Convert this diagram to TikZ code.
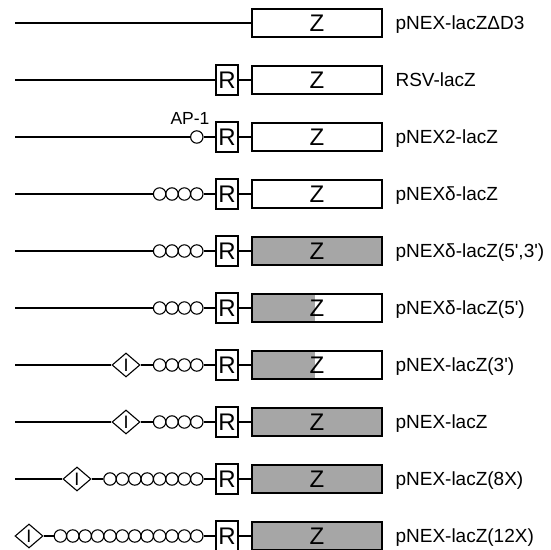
\documentclass[tikz,border=0pt]{standalone}
\usepackage{fontspec}
\setmainfont{Liberation Sans}
\usetikzlibrary{shapes.geometric}

\begin{document}
\begin{tikzpicture}[x=1pt, y=1pt, line width=1.1pt,
    zbox/.style={draw, rectangle, minimum width=130pt, minimum height=28pt, inner sep=0pt, font=\fontsize{24}{24}\selectfont},
    zfull/.style={zbox, fill=black!35},
    zhalf/.style={zbox, path picture={\fill[black!35] (path picture bounding box.south west) rectangle ([xshift=-2pt]path picture bounding box.north);}},
    rbox/.style={draw, rectangle, minimum width=22pt, minimum height=30pt, inner sep=0pt, font=\fontsize{24}{24}\selectfont},
    site/.style={draw, circle, minimum size=12.4pt, inner sep=0pt},
    enh/.style={draw, diamond, minimum width=28pt, minimum height=24pt, inner sep=0pt, font=\fontsize{18}{18}\selectfont},
    lab/.style={anchor=base west, yshift=-6.8pt, inner sep=0pt, font=\fontsize{19}{19}\selectfont}]

    \useasboundingbox (0,0) rectangle (550,550);

    % pNEX-lacZ delta D3
    \coordinate (s1) at (15,527);
    \node [zbox] (Z1) at (317,527) {Z};
    \node [lab] (L1) at (395,527) {pNEX-lacZΔD3};
    \draw (s1) -- (Z1);

    % RSV-lacZ
    \coordinate (s2) at (15,470);
    \node [rbox] (R2) at (227,470) {R};
    \node [zbox] (Z2) at (317,470) {Z};
    \node [lab] (L2) at (395,470) {RSV-lacZ};
    \draw (s2) -- (R2) -- (Z2);

    % pNEX2-lacZ, one AP-1 site
    \coordinate (s3) at (15,413);
    \node [site] (c3) at (196.8,413) {};
    \node [font=\fontsize{17.5}{18}\selectfont, anchor=base, inner sep=0pt] (ap) at (190,425) {AP-1};
    \node [rbox] (R3) at (227,413) {R};
    \node [zbox] (Z3) at (317,413) {Z};
    \node [lab] (L3) at (395,413) {pNEX2-lacZ};
    \draw (s3) -- (c3);
    \draw (c3) -- (R3) -- (Z3);

    % pNEXdelta-lacZ
    \coordinate (s4) at (15,356);
    \foreach \k in {1,...,4}
        \node [site] (c4-\k) at ({196.8-12.4*(4-\k)},356) {};
    \node [rbox] (R4) at (227,356) {R};
    \node [zbox] (Z4) at (317,356) {Z};
    \node [lab] (L4) at (395,356) {pNEXδ-lacZ};
    \draw (s4) -- (c4-1);
    \draw (c4-4) -- (R4) -- (Z4);

    % pNEXdelta-lacZ(5',3')
    \coordinate (s5) at (15,299);
    \foreach \k in {1,...,4}
        \node [site] (c5-\k) at ({196.8-12.4*(4-\k)},299) {};
    \node [rbox] (R5) at (227,299) {R};
    \node [zfull] (Z5) at (317,299) {Z};
    \node [lab] (L5) at (395,299) {pNEXδ-lacZ(5\textquotesingle,3\textquotesingle)};
    \draw (s5) -- (c5-1);
    \draw (c5-4) -- (R5) -- (Z5);

    % pNEXdelta-lacZ(5')
    \coordinate (s6) at (15,242);
    \foreach \k in {1,...,4}
        \node [site] (c6-\k) at ({196.8-12.4*(4-\k)},242) {};
    \node [rbox] (R6) at (227,242) {R};
    \node [zhalf] (Z6) at (317,242) {Z};
    \node [lab] (L6) at (395,242) {pNEXδ-lacZ(5\textquotesingle)};
    \draw (s6) -- (c6-1);
    \draw (c6-4) -- (R6) -- (Z6);

    % pNEX-lacZ(3')
    \coordinate (s7) at (15,185);
    \node [enh] (I7) at (126,185) {I};
    \foreach \k in {1,...,4}
        \node [site] (c7-\k) at ({196.8-12.4*(4-\k)},185) {};
    \node [rbox] (R7) at (227,185) {R};
    \node [zhalf] (Z7) at (317,185) {Z};
    \node [lab] (L7) at (395,185) {pNEX-lacZ(3\textquotesingle)};
    \draw (s7) -- (I7) -- (c7-1);
    \draw (c7-4) -- (R7) -- (Z7);

    % pNEX-lacZ
    \coordinate (s8) at (15,128);
    \node [enh] (I8) at (126,128) {I};
    \foreach \k in {1,...,4}
        \node [site] (c8-\k) at ({196.8-12.4*(4-\k)},128) {};
    \node [rbox] (R8) at (227,128) {R};
    \node [zfull] (Z8) at (317,128) {Z};
    \node [lab] (L8) at (395,128) {pNEX-lacZ};
    \draw (s8) -- (I8) -- (c8-1);
    \draw (c8-4) -- (R8) -- (Z8);

    % pNEX-lacZ(8X)
    \coordinate (s9) at (15,71);
    \node [enh] (I9) at (77,71) {I};
    \foreach \k in {1,...,8}
        \node [site] (c9-\k) at ({196.8-12.4*(8-\k)},71) {};
    \node [rbox] (R9) at (227,71) {R};
    \node [zfull] (Z9) at (317,71) {Z};
    \node [lab] (L9) at (395,71) {pNEX-lacZ(8X)};
    \draw (s9) -- (I9) -- (c9-1);
    \draw (c9-8) -- (R9) -- (Z9);

    % pNEX-lacZ(12X)
    \node [enh] (I10) at (29,14) {I};
    \foreach \k in {1,...,12}
        \node [site] (c10-\k) at ({196.8-12.4*(12-\k)},14) {};
    \node [rbox] (R10) at (227,14) {R};
    \node [zfull] (Z10) at (317,14) {Z};
    \node [lab] (L10) at (395,14) {pNEX-lacZ(12X)};
    \draw (I10) -- (c10-1);
    \draw (c10-12) -- (R10) -- (Z10);

\end{tikzpicture}
\end{document}
